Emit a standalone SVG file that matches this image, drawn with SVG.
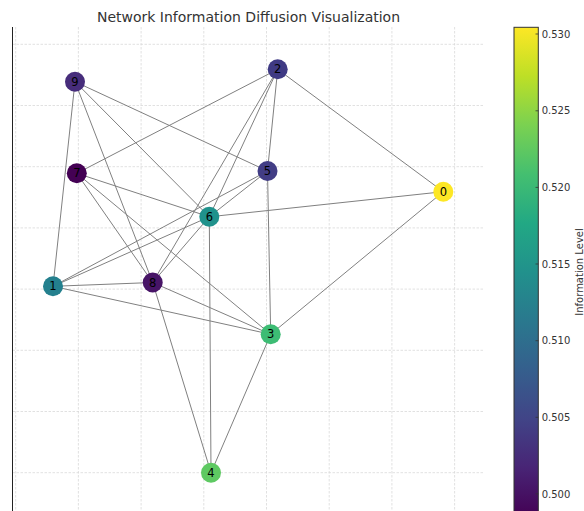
<svg xmlns="http://www.w3.org/2000/svg" width="584" height="511" viewBox="0 0 584 511">
<defs>
<linearGradient id="viridis" gradientUnits="userSpaceOnUse" x1="0" y1="517" x2="0" y2="27.3">
<stop offset="0" stop-color="#440154"/>
<stop offset="0.1" stop-color="#482475"/>
<stop offset="0.2" stop-color="#414487"/>
<stop offset="0.3" stop-color="#355f8d"/>
<stop offset="0.4" stop-color="#2a788e"/>
<stop offset="0.5" stop-color="#21918c"/>
<stop offset="0.6" stop-color="#22a884"/>
<stop offset="0.7" stop-color="#44bf70"/>
<stop offset="0.8" stop-color="#7ad151"/>
<stop offset="0.9" stop-color="#bddf26"/>
<stop offset="1" stop-color="#fde725"/>
</linearGradient>
<style>
.grid{stroke:#d9d9d9;stroke-width:0.8;stroke-dasharray:2.5,1.5;fill:none}
.edge{stroke:#808080;stroke-width:1;fill:none}
.node circle{stroke:none}
.node text{font-family:"DejaVu Sans",sans-serif;font-size:11.5px;fill:#000;text-anchor:middle;dominant-baseline:central}
.tick{font-family:"DejaVu Sans",sans-serif;font-size:10px;fill:#333}
</style>
</defs>
<rect width="584" height="511" fill="#fff"/>
<text x="248.5" y="22" font-family="DejaVu Sans, sans-serif" font-size="14" fill="#333" text-anchor="middle">Network Information Diffusion Visualization</text>
<g id="grid">
<line class="grid" x1="12.5" y1="44.3" x2="484" y2="44.3"/>
<line class="grid" x1="12.5" y1="105.5" x2="484" y2="105.5"/>
<line class="grid" x1="12.5" y1="166.7" x2="484" y2="166.7"/>
<line class="grid" x1="12.5" y1="227.9" x2="484" y2="227.9"/>
<line class="grid" x1="12.5" y1="289.1" x2="484" y2="289.1"/>
<line class="grid" x1="12.5" y1="350.3" x2="484" y2="350.3"/>
<line class="grid" x1="12.5" y1="411.5" x2="484" y2="411.5"/>
<line class="grid" x1="12.5" y1="472.7" x2="484" y2="472.7"/>
<line class="grid" x1="15.7" y1="27" x2="15.7" y2="511"/>
<line class="grid" x1="78.4" y1="27" x2="78.4" y2="511"/>
<line class="grid" x1="141.1" y1="27" x2="141.1" y2="511"/>
<line class="grid" x1="203.8" y1="27" x2="203.8" y2="511"/>
<line class="grid" x1="266.5" y1="27" x2="266.5" y2="511"/>
<line class="grid" x1="329.2" y1="27" x2="329.2" y2="511"/>
<line class="grid" x1="391.9" y1="27" x2="391.9" y2="511"/>
<line class="grid" x1="454.6" y1="27" x2="454.6" y2="511"/>
</g>
<line x1="12.5" y1="27" x2="12.5" y2="511" stroke="#222" stroke-width="1"/>
<g id="connectors">
<line class="edge" x1="75" y1="81.7" x2="53" y2="286.3"/>
<line class="edge" x1="75" y1="81.7" x2="152.7" y2="282.5"/>
<line class="edge" x1="75" y1="81.7" x2="209.3" y2="216.8"/>
<line class="edge" x1="75" y1="81.7" x2="267.5" y2="171"/>
<line class="edge" x1="277.7" y1="69.3" x2="76.8" y2="173.3"/>
<line class="edge" x1="277.7" y1="69.3" x2="443.3" y2="191.7"/>
<line class="edge" x1="277.7" y1="69.3" x2="267.5" y2="171"/>
<line class="edge" x1="277.7" y1="69.3" x2="209.3" y2="216.8"/>
<line class="edge" x1="277.7" y1="69.3" x2="152.7" y2="282.5"/>
<line class="edge" x1="76.8" y1="173.3" x2="209.3" y2="216.8"/>
<line class="edge" x1="76.8" y1="173.3" x2="152.7" y2="282.5"/>
<line class="edge" x1="76.8" y1="173.3" x2="270.7" y2="334.3"/>
<line class="edge" x1="267.5" y1="171" x2="53" y2="286.3"/>
<line class="edge" x1="267.5" y1="171" x2="209.3" y2="216.8"/>
<line class="edge" x1="267.5" y1="171" x2="270.7" y2="334.3"/>
<line class="edge" x1="209.3" y1="216.8" x2="443.3" y2="191.7"/>
<line class="edge" x1="209.3" y1="216.8" x2="53" y2="286.3"/>
<line class="edge" x1="209.3" y1="216.8" x2="152.7" y2="282.5"/>
<line class="edge" x1="209.3" y1="216.8" x2="211" y2="472.7"/>
<line class="edge" x1="443.3" y1="191.7" x2="270.7" y2="334.3"/>
<line class="edge" x1="53" y1="286.3" x2="152.7" y2="282.5"/>
<line class="edge" x1="53" y1="286.3" x2="270.7" y2="334.3"/>
<line class="edge" x1="152.7" y1="282.5" x2="270.7" y2="334.3"/>
<line class="edge" x1="152.7" y1="282.5" x2="211" y2="472.7"/>
<line class="edge" x1="270.7" y1="334.3" x2="211" y2="472.7"/>
</g>
<g id="node-0" class="node"><circle cx="443.3" cy="191.7" r="10" fill="#fde725"/><text x="443.3" y="191.7">0</text></g>
<g id="node-1" class="node"><circle cx="53" cy="286.3" r="10" fill="#24808e"/><text x="53" y="286.3">1</text></g>
<g id="node-2" class="node"><circle cx="277.7" cy="69.3" r="10" fill="#3f3a84"/><text x="277.7" y="69.3">2</text></g>
<g id="node-3" class="node"><circle cx="270.7" cy="334.3" r="10" fill="#3dbc74"/><text x="270.7" y="334.3">3</text></g>
<g id="node-4" class="node"><circle cx="211" cy="472.7" r="10" fill="#5ec962"/><text x="211" y="472.7">4</text></g>
<g id="node-5" class="node"><circle cx="267.5" cy="171" r="10" fill="#423d85"/><text x="267.5" y="171">5</text></g>
<g id="node-6" class="node"><circle cx="209.3" cy="216.8" r="10" fill="#20928c"/><text x="209.3" y="216.8">6</text></g>
<g id="node-7" class="node"><circle cx="76.8" cy="173.3" r="10" fill="#440154"/><text x="76.8" y="173.3">7</text></g>
<g id="node-8" class="node"><circle cx="152.7" cy="282.5" r="10" fill="#471466"/><text x="152.7" y="282.5">8</text></g>
<g id="node-9" class="node"><circle cx="75" cy="81.7" r="10" fill="#472d7b"/><text x="75" y="81.7">9</text></g>
<g id="colorbar">
<rect x="514" y="27.3" width="24.3" height="490" fill="url(#viridis)" stroke="#333" stroke-width="1"/>
<g stroke="#333" stroke-width="0.8">
<line x1="535.5" y1="34" x2="538.3" y2="34"/>
<line x1="535.5" y1="110.8" x2="538.3" y2="110.8"/>
<line x1="535.5" y1="187.4" x2="538.3" y2="187.4"/>
<line x1="535.5" y1="264" x2="538.3" y2="264"/>
<line x1="535.5" y1="340.7" x2="538.3" y2="340.7"/>
<line x1="535.5" y1="417.3" x2="538.3" y2="417.3"/>
<line x1="535.5" y1="493.9" x2="538.3" y2="493.9"/>
</g>
<text class="tick" x="541.7" y="37.6">0.530</text>
<text class="tick" x="541.7" y="114.4">0.525</text>
<text class="tick" x="541.7" y="191">0.520</text>
<text class="tick" x="541.7" y="267.6">0.515</text>
<text class="tick" x="541.7" y="344.3">0.510</text>
<text class="tick" x="541.7" y="420.9">0.505</text>
<text class="tick" x="541.7" y="497.5">0.500</text>
<text font-family="DejaVu Sans, sans-serif" font-size="10" fill="#333" text-anchor="middle" transform="translate(583.3,272) rotate(-90)">Information Level</text>
</g>
</svg>
